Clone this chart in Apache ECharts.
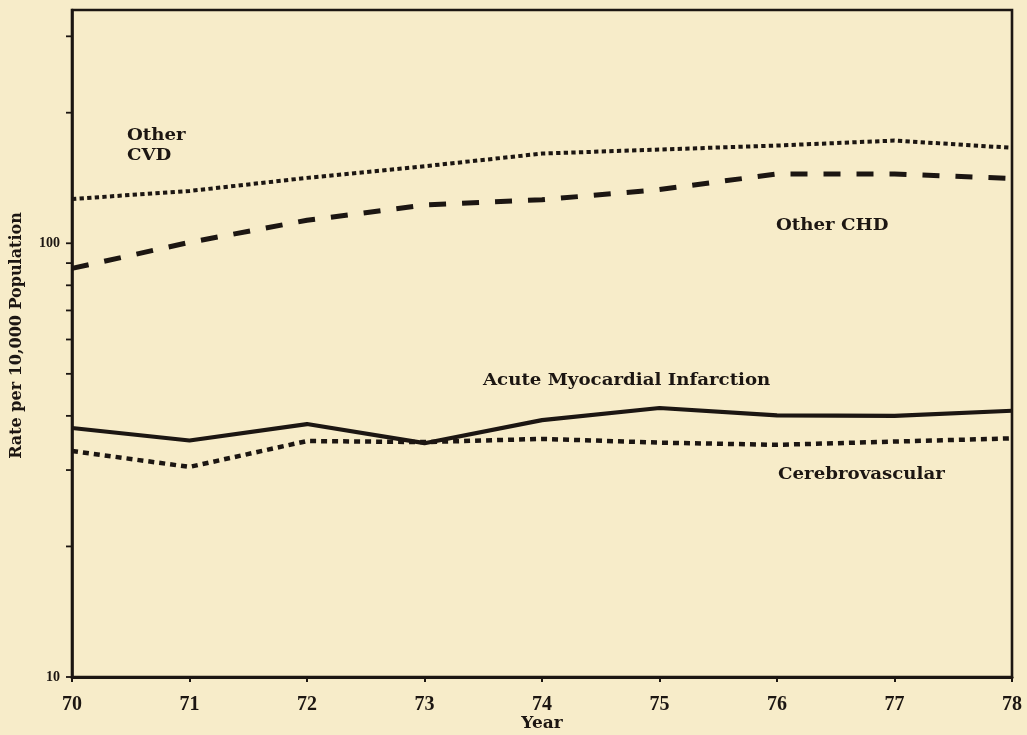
<!DOCTYPE html>
<html>
<head>
<meta charset="utf-8">
<script src="https://cdn.jsdelivr.net/npm/echarts@6/dist/echarts.min.js"></script>
<style>
  html, body { margin: 0; padding: 0; background: #f7ecc9; }
  #chart { width: 1027px; height: 735px; }
</style>
</head>
<body>
<div id="chart"></div>
<script>
// Death rates per 10,000 population, 1970–1978 (log scale)
const years = [70, 71, 72, 73, 74, 75, 76, 77, 78];
const otherCVD = [126.5, 132, 141.5, 150.5, 161, 164.5, 168, 172.5, 166];
const otherCHD = [87.5, 100.5, 113, 122.5, 126, 133, 144.5, 144.5, 141];
const acuteMI = [37.5, 35.1, 38.3, 34.6, 39.1, 41.7, 40.1, 40.0, 41.1];
const cerebrovascular = [33.2, 30.5, 35.0, 34.8, 35.4, 34.7, 34.3, 34.9, 35.5];

const yTickValues = [10, 20, 30, 40, 50, 60, 70, 80, 90, 100, 200, 300];
const yLabelValues = [10, 100];

const ink = '#1c1612';
const serif = '"DejaVu Serif", "Liberation Serif", serif';
const pairs = arr => years.map((y, i) => [y, arr[i]]);

const chart = echarts.init(document.getElementById('chart'));

function lineSeries(name, values, width, type) {
  return {
    name: name,
    type: 'line',
    data: pairs(values),
    showSymbol: false,
    symbol: 'none',
    lineStyle: { color: ink, width: width, type: type, cap: 'butt' },
    z: 3
  };
}

// series caption drawn in the plot area, slightly widened bold serif
function caption(text, x, y) {
  return {
    type: 'text', x: x, y: y, scaleX: 1.07,
    style: { text: text, font: 'bold 17px ' + serif, fill: ink, verticalAlign: 'middle' }
  };
}

chart.setOption({
  backgroundColor: '#f7ecc9',
  animation: false,
  grid: {
    left: 72, right: 15, top: 10, bottom: 58,
    outerBoundsMode: 'none',
    show: true, borderColor: ink, borderWidth: 2.6,
    backgroundColor: 'transparent'
  },
  xAxis: {
    type: 'value',
    min: 70, max: 78, interval: 1,
    name: 'Year',
    nameLocation: 'middle',
    nameGap: 38,
    nameMoveOverlap: false,
    nameTextStyle: { fontFamily: serif, fontWeight: 'bold', fontSize: 17, color: ink },
    axisLine: { show: true, lineStyle: { color: ink, width: 3 } },
    axisTick: { show: true, length: 5, lineStyle: { color: ink, width: 2 } },
    axisLabel: {
      margin: 18,
      fontFamily: '"Liberation Serif", serif',
      fontWeight: 'bold', fontSize: 20, color: ink
    },
    splitLine: { show: false }
  },
  yAxis: {
    type: 'log',
    logBase: 10,
    min: 10, max: 345,
    name: 'Rate per 10,000 Population',
    nameLocation: 'middle',
    nameGap: 47,
    nameTextStyle: {
      fontFamily: serif, fontWeight: 'bold', fontSize: 16, color: ink,
      padding: [0, 0, 0, 16]
    },
    axisLine: { show: true, lineStyle: { color: ink, width: 2.6 } },
    axisTick: { show: false },
    axisLabel: {
      margin: 12,
      customValues: yLabelValues,
      fontFamily: '"Liberation Serif", serif',
      fontWeight: 'bold', fontSize: 14, color: ink
    },
    splitLine: { show: false },
    minorTick: { show: false }
  },
  series: [
    // log-cycle tick marks on the left axis (10, 20 … 90, 100, 200, 300)
    {
      type: 'custom',
      clip: false,
      silent: true,
      data: yTickValues.map(v => [years[0], v]),
      encode: { x: 0, y: 1 },
      renderItem: function (params, api) {
        const p = api.coord([api.value(0), api.value(1)]);
        return {
          type: 'line',
          shape: { x1: p[0] - 6, y1: p[1], x2: p[0], y2: p[1] },
          style: { stroke: ink, lineWidth: 1.8 }
        };
      },
      z: 4
    },
    lineSeries('Other CVD', otherCVD, 4, [4.3, 3.3]),
    lineSeries('Other CHD', otherCHD, 5, [17, 16]),
    lineSeries('Acute Myocardial Infarction', acuteMI, 4.2, 'solid'),
    lineSeries('Cerebrovascular', cerebrovascular, 4.5, [6, 5])
  ],
  graphic: [
    caption('Other', 127, 136),
    caption('CVD', 127, 156),
    caption('Other CHD', 776, 226),
    caption('Acute Myocardial Infarction', 483, 381),
    caption('Cerebrovascular', 778, 475)
  ]
});
</script>
</body>
</html>
